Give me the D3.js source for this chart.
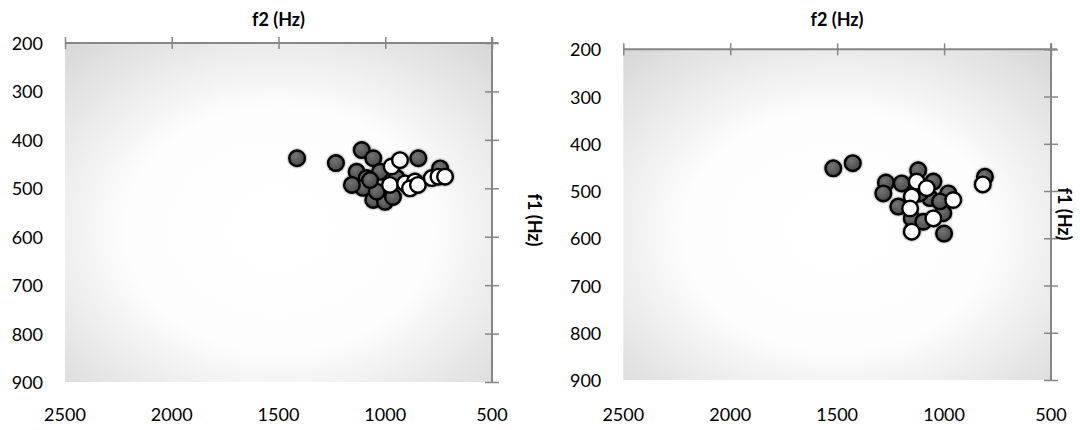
<!DOCTYPE html>
<html>
<head>
<meta charset="utf-8">
<script src="https://cdn.jsdelivr.net/npm/d3@7"></script>
<style>
  html, body { margin: 0; padding: 0; background: #ffffff; }
  svg { display: block; }
  text { font-family: Lato, "Open Sans", sans-serif; fill: #000; }
</style>
</head>
<body>
<svg id="chart" width="1080" height="430"></svg>
<script>
// Axis ticks (Hz)
const f2Ticks = [2500, 2000, 1500, 1000, 500];
const f1Ticks = [200, 300, 400, 500, 600, 700, 800, 900];

// Left panel: [f2, f1] pairs for each speaker group
const leftDark = [
  [1413, 438], [1231, 448], [1110, 421], [1056, 438], [1134, 466],
  [1087, 479], [1104, 499], [1056, 524], [1001, 528], [1025, 466],
  [845, 438], [743, 459], [946, 479], [1040, 507], [964, 518],
  [1071, 483], [1156, 493]
];
const leftLight = [
  [970, 455], [931, 442], [978, 493], [907, 490], [861, 486],
  [884, 500], [847, 493], [782, 479], [751, 476], [720, 476]
];

// Right panel
const rightDark = [
  [1518, 452], [1427, 441], [1121, 456], [1272, 482], [1284, 505],
  [1198, 484], [1050, 480], [980, 505], [1214, 533], [1151, 558],
  [1097, 565], [1004, 547], [1000, 590], [1066, 515], [1019, 522],
  [809, 470], [1113, 505]
];
const rightLight = [
  [1128, 480], [1081, 494], [1151, 512], [957, 519], [1159, 537],
  [1050, 558], [1151, 586], [819, 486]
];

const svg = d3.select("#chart");
const defs = svg.append("defs");

// Plot-area fill: white centre fading to grey corners
const bg = defs.append("radialGradient").attr("id", "plotFill")
  .attr("cx", 0.5).attr("cy", 0.55).attr("r", 0.72);
bg.append("stop").attr("offset", 0).attr("stop-color", "#ffffff");
bg.append("stop").attr("offset", 0.5).attr("stop-color", "#fdfdfd");
bg.append("stop").attr("offset", 1).attr("stop-color", "#d9d9d9");

// Shaded marker fills
const gDark = defs.append("radialGradient").attr("id", "darkBall")
  .attr("cx", 0.4).attr("cy", 0.35).attr("r", 0.7);
gDark.append("stop").attr("offset", 0).attr("stop-color", "#747474");
gDark.append("stop").attr("offset", 1).attr("stop-color", "#464646");

const gLight = defs.append("radialGradient").attr("id", "lightBall")
  .attr("cx", 0.4).attr("cy", 0.35).attr("r", 0.7);
gLight.append("stop").attr("offset", 0).attr("stop-color", "#ffffff");
gLight.append("stop").attr("offset", 0.65).attr("stop-color", "#fbfbfb");
gLight.append("stop").attr("offset", 1).attr("stop-color", "#e2e2e2");

const soft = defs.append("filter").attr("id", "soft")
  .attr("x", "-30%").attr("y", "-30%").attr("width", "160%").attr("height", "160%");
soft.append("feDropShadow").attr("dx", 0).attr("dy", 0)
  .attr("stdDeviation", 0.8).attr("flood-color", "#000").attr("flood-opacity", 0.6);

const panels = [
  { x0: 65, x1: 492, y0: 43, y1: 382, titleX: 278.5, titleY: 26, f1X: 535, f1Y: 220,
    dark: leftDark, light: leftLight },
  { x0: 623.3, x1: 1051, y0: 49.3, y1: 380, titleX: 837, titleY: 26, f1X: 1065, f1Y: 214,
    dark: rightDark, light: rightLight }
];

const axisColor = "#868686";

panels.forEach(p => {
  const x = d3.scaleLinear().domain([2500, 500]).range([p.x0, p.x1]);
  const y = d3.scaleLinear().domain([200, 900]).range([p.y0, p.y1]);
  const g = svg.append("g");

  g.append("rect")
    .attr("x", p.x0).attr("y", p.y0)
    .attr("width", p.x1 - p.x0).attr("height", p.y1 - p.y0)
    .attr("fill", "url(#plotFill)");

  // f2 axis along the top, ticks crossing the line
  const top = g.append("g").attr("transform", `translate(0,${p.y0})`)
    .call(d3.axisTop(x).tickValues(f2Ticks).tickSize(6).tickFormat(""));
  top.select(".domain").attr("stroke", axisColor).attr("stroke-width", 2)
    .attr("d", `M${p.x0},0H${p.x1 + 6}`);
  top.selectAll(".tick line").attr("stroke", axisColor).attr("stroke-width", 1.5)
    .attr("y1", 6).attr("y2", -6);

  // f1 axis along the right side
  const right = g.append("g").attr("transform", `translate(${p.x1},0)`)
    .call(d3.axisRight(y).tickValues(f1Ticks).tickSize(6).tickFormat(""));
  right.select(".domain").attr("stroke", axisColor).attr("stroke-width", 2)
    .attr("d", `M0,${p.y0 - 6}V${p.y1}`);
  right.selectAll(".tick line").attr("stroke", axisColor).attr("stroke-width", 1.5)
    .attr("x1", -7).attr("x2", 7);

  // Tick labels sit at the low ends: left and bottom
  g.selectAll("text.ylab").data(f1Ticks).join("text")
    .attr("class", "ylab")
    .attr("x", p.x0 - 22).attr("y", d => y(d))
    .attr("text-anchor", "end").attr("dominant-baseline", "central")
    .style("font-size", "18px")
    .text(d => d);

  g.selectAll("text.xlab").data(f2Ticks).join("text")
    .attr("class", "xlab")
    .attr("x", d => x(d)).attr("y", 414)
    .attr("text-anchor", "middle").attr("dominant-baseline", "central")
    .style("font-size", "18px")
    .text(d => d);

  g.append("text")
    .attr("x", p.titleX).attr("y", p.titleY)
    .attr("text-anchor", "middle")
    .style("font-size", "18px").style("font-weight", "bold")
    .text("f2 (Hz)");

  g.append("text")
    .attr("transform", `translate(${p.f1X},${p.f1Y}) rotate(90)`)
    .attr("text-anchor", "middle").attr("dominant-baseline", "central")
    .style("font-size", "18px").style("font-weight", "bold")
    .text("f1 (Hz)");

  const marks = g.append("g").attr("filter", "url(#soft)");
  marks.selectAll("circle.dark").data(p.dark).join("circle")
    .attr("class", "dark")
    .attr("cx", d => x(d[0])).attr("cy", d => y(d[1])).attr("r", 7.8)
    .attr("fill", "url(#darkBall)").attr("stroke", "#000").attr("stroke-width", 2.4);
  marks.selectAll("circle.light").data(p.light).join("circle")
    .attr("class", "light")
    .attr("cx", d => x(d[0])).attr("cy", d => y(d[1])).attr("r", 7.8)
    .attr("fill", "url(#lightBall)").attr("stroke", "#000").attr("stroke-width", 2.4);
});
</script>
</body>
</html>
